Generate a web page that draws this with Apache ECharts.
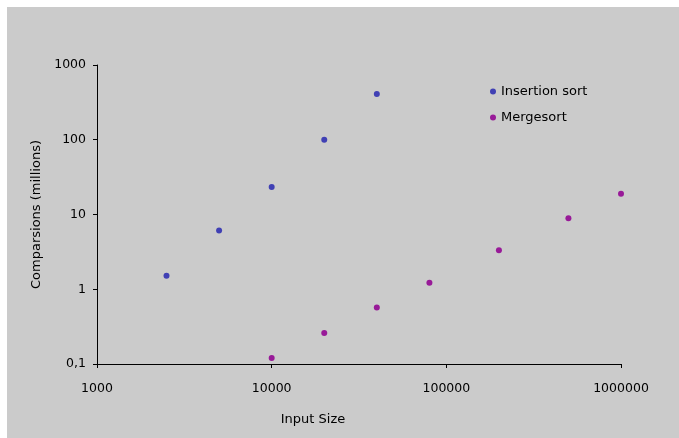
<!DOCTYPE html>
<html>
<head>
    <meta charset="utf-8">
    <script src="https://cdn.jsdelivr.net/npm/echarts@6/dist/echarts.min.js"></script>
</head>
<body style="margin:0;background:#ffffff;width:679px;height:438px;overflow:hidden;">
    <div id="container" style="position:absolute;left:7px;top:7px;width:672px;height:431px;"></div>
    <script type="text/javascript">
        var sizesInsertion = [2500, 5000, 10000, 20000, 40000];
        var valuesInsertion = [1.52, 6.1, 23.3, 100, 410];
        var sizesMerge = [10000, 20000, 40000, 80000, 200000, 500000, 1000000];
        var valuesMerge = [0.12, 0.26, 0.57, 1.22, 3.33, 8.9, 18.9];
        var seriesNames = ['Insertion sort', 'Mergesort'];

        function pairs(xs, ys) {
            var out = [];
            for (var i = 0; i < xs.length; i++) {
                out.push([xs[i], ys[i]]);
            }
            return out;
        }

        var font = "'Comic Sans MS', 'DejaVu Sans', sans-serif";
        var dom = document.getElementById('container');
        var myChart = echarts.init(dom);
        var option = {
            backgroundColor: '#cbcbcb',
            animation: false,
            textStyle: { fontFamily: font, color: '#000' },
            grid: { left: 90, right: 58, top: 58, bottom: 74 },
            legend: {
                orient: 'vertical',
                left: 478,
                top: 73,
                itemWidth: 6,
                itemHeight: 6,
                itemGap: 13,
                icon: 'circle',
                textStyle: { fontFamily: font, fontSize: 13, color: '#000' },
                data: seriesNames
            },
            xAxis: {
                type: 'log',
                logBase: 10,
                min: 1000,
                max: 1000000,
                splitLine: { show: false },
                axisLine: { lineStyle: { color: '#000', width: 1 } },
                axisTick: { show: true, length: 4, lineStyle: { color: '#000' } },
                axisLabel: {
                    margin: 18,
                    fontFamily: font,
                    fontSize: 12.5,
                    color: '#000',
                    formatter: function (v) {
                        return String(Math.round(v));
                    }
                },
                name: 'Input Size',
                nameLocation: 'middle',
                nameGap: 49,
                nameTextStyle: { fontFamily: font, fontSize: 13, color: '#000', padding: [0, 92, 0, 0] }
            },
            yAxis: {
                type: 'log',
                logBase: 10,
                min: 0.1,
                max: 1000,
                splitLine: { show: false },
                axisLine: { show: true, lineStyle: { color: '#000', width: 1 } },
                axisTick: { show: true, length: 4, lineStyle: { color: '#000' } },
                axisLabel: {
                    margin: 11,
                    fontFamily: font,
                    fontSize: 12.5,
                    color: '#000',
                    formatter: function (v) {
                        return String(v).replace('.', ',');
                    }
                },
                name: 'Comparsions (millions)',
                nameLocation: 'middle',
                nameGap: 52,
                nameTextStyle: { fontFamily: font, fontSize: 13, color: '#000' }
            },
            series: [{
                name: seriesNames[0],
                type: 'scatter',
                symbolSize: 6,
                itemStyle: { color: '#4040b4', opacity: 1 },
                data: pairs(sizesInsertion, valuesInsertion)
            }, {
                name: seriesNames[1],
                type: 'scatter',
                symbolSize: 6,
                itemStyle: { color: '#981a98', opacity: 1 },
                data: pairs(sizesMerge, valuesMerge)
            }]
        };
        myChart.setOption(option);
    </script>
</body>
</html>
